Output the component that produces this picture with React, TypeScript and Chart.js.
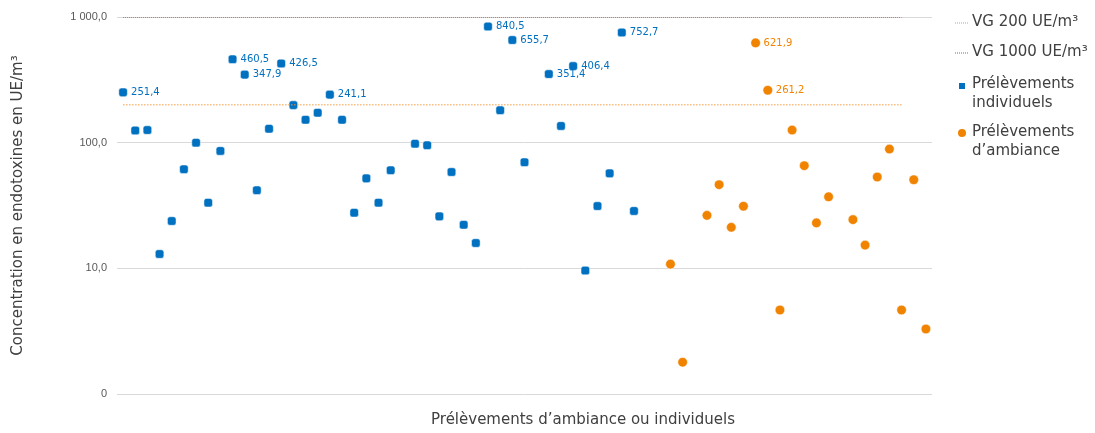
import React, { useEffect, useRef } from 'react';
import { Chart, registerables } from 'chart.js';

Chart.register(...registerables);

const categories = [
  '1', '2', '3', '4', '5', '6', '7', '8', '9', '10',
  '11', '12', '13', '14', '15', '16', '17', '18', '19', '20',
  '21', '22', '23', '24', '25', '26', '27', '28', '29', '30',
  '31', '32', '33', '34', '35', '36', '37', '38', '39', '40',
  '41', '42', '43', '44', '45', '46', '47', '48', '49', '50',
  '51', '52', '53', '54', '55', '56', '57', '58', '59', '60',
  '61', '62', '63', '64', '65', '66', '67',
];

const individuels: (number | null)[] = [
  251.4, 125, 126, 13.0, 23.8, 61.4, 100, 33.3, 85.9, 460.5,
  347.9, 41.8, 129, 426.5, 199, 152, 173, 241.1, 152, 27.7,
  52, 33.3, 60.3, null, 98.1, 95.3, 25.9, 58.4, 22.2, 15.9,
  840.5, 181, 655.7, 69.8, null, 351.4, 135.8, 406.4, 9.6, 31.3,
  57, 752.7, 28.6, null, null, null, null, null, null, null,
  null, null, null, null, null, null, null, null, null, null,
  null, null, null, null, null, null, null,
];

const ambiance: (number | null)[] = [
  null, null, null, null, null, null, null, null, null, null,
  null, null, null, null, null, null, null, null, null, null,
  null, null, null, null, null, null, null, null, null, null,
  null, null, null, null, null, null, null, null, null, null,
  null, null, null, null, null, 10.8, 1.79, null, 26.4, 46.3,
  21.2, 31.2, 621.9, 261.2, 4.66, 126, 65.6, 23.0, 37.1, null,
  24.4, 15.3, 53.3, 89, 4.66, 50.7, 3.29,
];

const vg200Value = 200;
const vg1000Value = 1000;
const vgFirstCategory = '1';
const vgLastCategory = '65';

const yTickValues = [1, 10, 100, 1000];
const yTickLabels = ['0', '10,0', '100,0', '1 000,0'];

const seriesNames = ['VG 200 UE/m³', 'VG 1000 UE/m³', 'Prélèvements individuels', 'Prélèvements d’ambiance'];
const legendLines = [['VG 200 UE/m³'], ['VG 1000 UE/m³'], ['Prélèvements', 'individuels'], ['Prélèvements', 'd’ambiance']];

const xTitle = 'Prélèvements d’ambiance ou individuels';
const yTitle = 'Concentration en endotoxines en UE/m³';

const labelThreshold = 200;

const BLUE = '#0070C0';
const ORANGE = '#F08300';
const ORANGE_LINE = '#F39A3C';
const RED_LINE = '#C0504D';
const TEXT = '#404040';
const FONT = '"DejaVu Sans", "Noto Sans", sans-serif';

const fmt = (v: number) => v.toFixed(1).replace('.', ',');

const dataLabelPlugin = {
  id: 'dataLabels',
  afterDatasetsDraw(chart: any) {
    const ctx = chart.ctx;
    ctx.save();
    ctx.font = `10px ${FONT}`;
    ctx.textAlign = 'left';
    ctx.textBaseline = 'middle';
    [2, 3].forEach((di) => {
      const ds = chart.data.datasets[di];
      const meta = chart.getDatasetMeta(di);
      ctx.fillStyle = di === 2 ? BLUE : ORANGE;
      ds.data.forEach((v: number | null, i: number) => {
        if (v == null || v <= labelThreshold) return;
        const pt = meta.data[i];
        ctx.fillText(fmt(v), pt.x + 8, pt.y);
      });
    });
    ctx.restore();
  },
};

const legendPlugin = {
  id: 'customLegend',
  afterDraw(chart: any) {
    const ctx = chart.ctx;
    const right = chart.chartArea.right;
    const sx0 = right + 23;
    const sx1 = right + 37;
    const tx = right + 40;
    const rows = [22.5, 52.5, 84, 132];
    const lh = 19;
    ctx.save();
    ctx.font = `15px ${FONT}`;
    ctx.fillStyle = TEXT;
    ctx.textAlign = 'left';
    ctx.textBaseline = 'middle';
    legendLines.forEach((lines, k) => {
      const y0 = rows[k];
      lines.forEach((t, j) => ctx.fillText(t, tx, y0 + j * lh));
      if (k < 2) {
        ctx.strokeStyle = k === 0 ? ORANGE_LINE : RED_LINE;
        ctx.lineWidth = 1;
        ctx.setLineDash([1, 1]);
        ctx.beginPath();
        ctx.moveTo(sx0, y0 + 0.5);
        ctx.lineTo(sx1, y0 + 0.5);
        ctx.stroke();
        ctx.setLineDash([]);
      } else if (k === 2) {
        ctx.fillStyle = BLUE;
        ctx.fillRect((sx0 + sx1) / 2 - 3, y0 + 2 - 3, 6, 6);
        ctx.fillStyle = TEXT;
      } else {
        ctx.fillStyle = ORANGE;
        ctx.beginPath();
        ctx.arc((sx0 + sx1) / 2, y0 + 1, 4, 0, Math.PI * 2);
        ctx.fill();
        ctx.fillStyle = TEXT;
      }
    });
    // x-axis title
    ctx.textAlign = 'center';
    ctx.fillText(xTitle, 583, 420);
    ctx.restore();
  },
};

export default function App() {
  const canvasRef = useRef<HTMLCanvasElement | null>(null);

  useEffect(() => {
    document.body.style.margin = '0';
    const canvas = canvasRef.current;
    if (!canvas) return;
    const chart = new Chart(canvas, {
      type: 'line',
      data: {
        labels: categories,
        datasets: [
          {
            label: seriesNames[0],
            data: [
              { x: vgFirstCategory, y: vg200Value },
              { x: vgLastCategory, y: vg200Value },
            ] as any,
            borderColor: ORANGE_LINE,
            borderWidth: 1,
            borderDash: [1.5, 1.5],
            pointRadius: 0,
            fill: false,
          },
          {
            label: seriesNames[1],
            data: [
              { x: vgFirstCategory, y: vg1000Value },
              { x: vgLastCategory, y: vg1000Value },
            ] as any,
            borderColor: RED_LINE,
            borderWidth: 1.5,
            borderDash: [1, 1],
            pointRadius: 0,
            fill: false,
          },
          {
            label: seriesNames[2],
            data: individuels,
            showLine: false,
            pointStyle: 'rectRounded',
            pointRadius: 5,
            pointBackgroundColor: BLUE,
            pointBorderColor: '#ffffff',
            pointBorderWidth: 0.5,
          },
          {
            label: seriesNames[3],
            data: ambiance,
            showLine: false,
            pointStyle: 'circle',
            pointRadius: 4.8,
            pointBackgroundColor: ORANGE,
            pointBorderColor: '#ffffff',
            pointBorderWidth: 0.5,
          },
        ],
      },
      options: {
        animation: false,
        responsive: true,
        maintainAspectRatio: false,
        layout: { padding: { left: 0, right: 163, top: 17, bottom: 0 } },
        plugins: {
          legend: { display: false },
          tooltip: { enabled: false },
        },
        scales: {
          x: {
            type: 'category',
            offset: true,
            grid: { display: false, drawTicks: false },
            border: { display: false },
            ticks: { display: false },
            afterFit: (scale: any) => {
              scale.height = 39;
            },
          },
          y: {
            type: 'logarithmic',
            min: 1,
            max: 1000,
            grid: { color: '#d9d9d9', lineWidth: 1, drawTicks: false },
            border: { display: false },
            ticks: {
              padding: 10,
              color: '#595959',
              font: { family: '"Liberation Sans", Arial, sans-serif', size: 11 },
              callback: (value: any) => {
                const idx = yTickValues.indexOf(Number(value));
                return idx >= 0 ? yTickLabels[idx] : '';
              },
            },
            afterBuildTicks: (scale: any) => {
              scale.ticks = yTickValues.map((v) => ({ value: v }));
            },
            title: {
              display: true,
              text: yTitle,
              color: TEXT,
              font: { family: FONT, size: 15 },
              padding: { top: 9, bottom: 0 },
            },
            afterFit: (scale: any) => {
              scale.width = 117;
            },
          },
        },
      },
      plugins: [dataLabelPlugin, legendPlugin],
    });
    return () => chart.destroy();
  }, []);

  return (
    <div style={{ width: 1095, height: 433, position: 'relative' }}>
      <canvas ref={canvasRef} />
    </div>
  );
}
